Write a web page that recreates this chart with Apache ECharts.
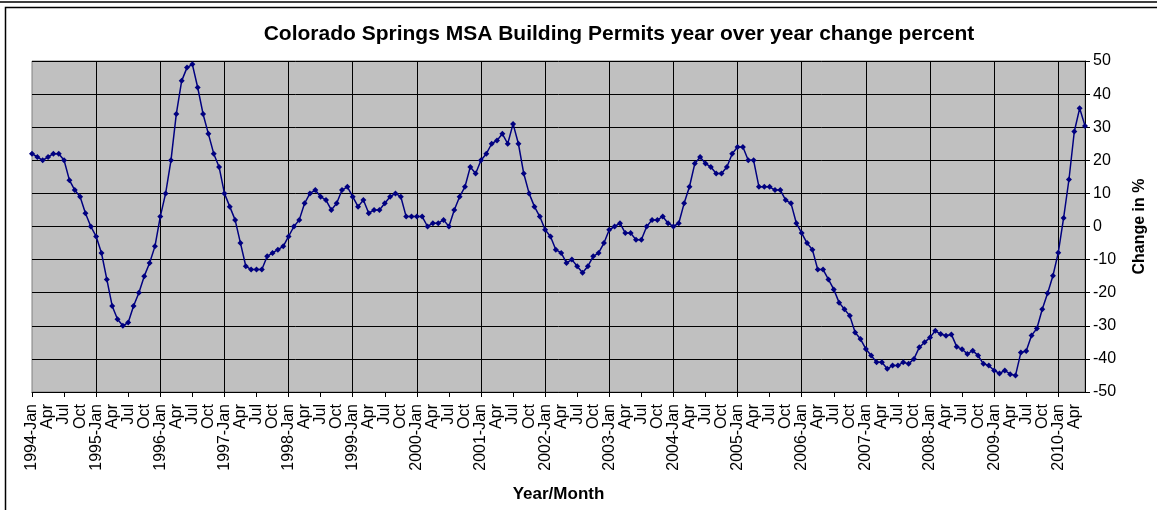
<!DOCTYPE html>
<html style="height:100%;">
<head>
    <meta charset="utf-8">
    <title>Colorado Springs MSA Building Permits</title>
    <script src="https://cdn.jsdelivr.net/npm/echarts@6/dist/echarts.min.js"></script>
</head>
<body style="height: 100%; margin: 0; background: #fff;">
    <div id="main" style="width: 1157px; height: 510px;"></div>
    <script type="text/javascript">
    // months from 1994-Jan to 2010-Jun
    var years = [1994, 1995, 1996, 1997, 1998, 1999, 2000, 2001, 2002,
                 2003, 2004, 2005, 2006, 2007, 2008, 2009, 2010];
    var monthNames = ['Jan', 'Feb', 'Mar', 'Apr', 'May', 'Jun',
                      'Jul', 'Aug', 'Sep', 'Oct', 'Nov', 'Dec'];
    var lastYearMonths = 6;

    // year over year change, %
    var changePct = [
        22, 21, 20, 21, 22, 22, 20, 14, 11, 9, 4, 0,                 // 1994
        -3, -8, -16, -24, -28, -30, -29, -24, -20, -15, -11, -6,     // 1995
        3, 10, 20, 34, 44, 48, 49, 42, 34, 28, 22, 18,               // 1996
        10, 6, 2, -5, -12, -13, -13, -13, -9, -8, -7, -6,            // 1997
        -3, 0, 2, 7, 10, 11, 9, 8, 5, 7, 11, 12,                     // 1998
        9, 6, 8, 4, 5, 5, 7, 9, 10, 9, 3, 3,                         // 1999
        3, 3, 0, 1, 1, 2, 0, 5, 9, 12, 18, 16,                       // 2000
        20, 22, 25, 26, 28, 25, 31, 25, 16, 10, 6, 3,                // 2001
        -1, -3, -7, -8, -11, -10, -12, -14, -12, -9, -8, -5,         // 2002
        -1, 0, 1, -2, -2, -4, -4, 0, 2, 2, 3, 1,                     // 2003
        0, 1, 7, 12, 19, 21, 19, 18, 16, 16, 18, 22,                 // 2004
        24, 24, 20, 20, 12, 12, 12, 11, 11, 8, 7, 1,                 // 2005
        -2, -5, -7, -13, -13, -16, -19, -23, -25, -27, -32, -34,     // 2006
        -37, -39, -41, -41, -43, -42, -42, -41, -41.5, -40, -36.5, -35, // 2007
        -33.5, -31.5, -32.5, -33, -32.6, -36.3, -37.1, -38.5, -37.5, -39, -41.5, -42, // 2008
        -43.5, -44.4, -43.5, -44.6, -45, -38.1, -37.6, -32.9, -30.8, -25, -20.2, -14.9, // 2009
        -7.9, 2.6, 14.2, 28.7, 35.7, 30.4                            // 2010
    ];

    var categories = [];
    years.forEach(function (y, yi) {
        var n = (yi === years.length - 1) ? lastYearMonths : 12;
        for (var m = 0; m < n; m++) {
            categories.push(y + '-' + monthNames[m]);
        }
    });

    var font = 'Liberation Sans, Arial, sans-serif';
    var myChart = echarts.init(document.getElementById('main'));
    myChart.setOption({
        animation: false,
        title: {
            text: 'Colorado Springs MSA Building Permits year over year change percent',
            left: 614,
            top: 19,
            textAlign: 'center',
            textStyle: {
                fontFamily: font,
                fontSize: 21,
                fontWeight: 'bold',
                color: '#000'
            }
        },
        graphic: [{
            type: 'line',
            shape: { x1: 0, y1: 2, x2: 1157, y2: 2 },
            style: { stroke: '#000', lineWidth: 1.5 }
        }, {
            type: 'rect',
            shape: { x: 5.5, y: 7.5, width: 1160, height: 520 },
            style: { fill: 'none', stroke: '#000', lineWidth: 1.5 }
        }],
        grid: {
            left: 32,
            top: 61,
            width: 1053,
            height: 331,
            outerBoundsMode: 'none',
            show: true,
            backgroundColor: '#C0C0C0',
            borderColor: '#808080',
            borderWidth: 1
        },
        xAxis: {
            type: 'category',
            data: categories,
            boundaryGap: false,
            name: 'Year/Month',
            nameLocation: 'middle',
            nameGap: 94,
            nameTextStyle: {
                fontFamily: font,
                fontSize: 17,
                fontWeight: 'bold',
                color: '#000'
            },
            axisLine: { onZero: false, lineStyle: { color: '#000', width: 1 } },
            axisTick: {
                show: true,
                length: 5,
                interval: function (i) { return i % 6 === 0; },
                lineStyle: { color: '#000' }
            },
            axisLabel: {
                rotate: 90,
                margin: 12,
                fontFamily: font,
                fontSize: 16,
                color: '#000',
                lineHeight: 16,
                interval: function (i) { return i % 3 === 0; },
                formatter: function (v) {
                    var p = v.split('-');
                    return p[1] === 'Jan' ? v : p[1];
                }
            },
            splitLine: {
                show: true,
                interval: function (i) { return i % 12 === 0 && i > 0; },
                lineStyle: { color: '#000', width: 1 }
            }
        },
        yAxis: {
            type: 'value',
            position: 'right',
            min: -50,
            max: 50,
            interval: 10,
            name: 'Change in %',
            nameLocation: 'middle',
            nameRotate: 90,
            nameGap: 47,
            nameTextStyle: {
                fontFamily: font,
                fontSize: 16,
                fontWeight: 'bold',
                color: '#000'
            },
            axisLine: { show: true, lineStyle: { color: '#000', width: 1 } },
            axisTick: { show: true, length: 5, lineStyle: { color: '#000' } },
            axisLabel: {
                margin: 8,
                fontFamily: font,
                fontSize: 16,
                color: '#000'
            },
            splitLine: { show: true, lineStyle: { color: '#000', width: 1 } }
        },
        series: [{
            name: 'Change in %',
            type: 'line',
            data: changePct,
            symbol: 'diamond',
            symbolSize: 6,
            showAllSymbol: true,
            lineStyle: { color: '#000080', width: 1.5 },
            itemStyle: { color: '#000080' }
        }]
    });
    </script>
</body>
</html>
